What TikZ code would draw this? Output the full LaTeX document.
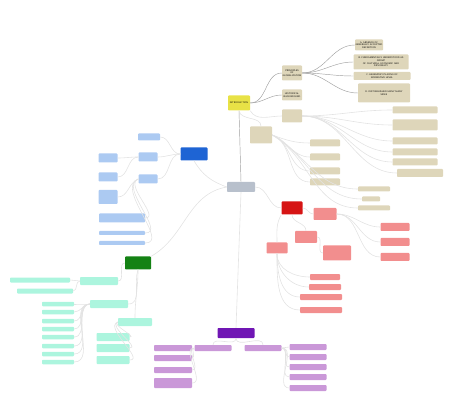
\documentclass[tikz,border=0pt]{standalone}
\usetikzlibrary{positioning}

\definecolor{introcol}{RGB}{232,226,70}
\definecolor{tancol}{RGB}{222,214,186}
\definecolor{hubcol}{RGB}{184,192,204}
\definecolor{bluecol}{RGB}{30,100,212}
\definecolor{lightbluecol}{RGB}{172,202,242}
\definecolor{redcol}{RGB}{214,20,20}
\definecolor{pinkcol}{RGB}{242,142,142}
\definecolor{greencol}{RGB}{20,130,20}
\definecolor{mintcol}{RGB}{172,245,222}
\definecolor{purplecol}{RGB}{112,22,180}
\definecolor{lilaccol}{RGB}{202,152,216}

\newcommand{\mapfont}{\fontsize{2.3}{2.7}\selectfont\sffamily}

\tikzset{
  mapbox/.style={rounded corners=0.8pt, inner sep=0.5pt, align=center, font=\mapfont},
  hubbox/.style={mapbox, fill=hubcol, minimum width=28pt, minimum height=10pt},
  introbox/.style={mapbox, fill=introcol, minimum width=22pt, minimum height=15pt},
  tanbox/.style={mapbox, fill=tancol},
  mainblue/.style={mapbox, fill=bluecol, minimum width=27pt, minimum height=13pt},
  bluebox/.style={mapbox, fill=lightbluecol},
  mainred/.style={mapbox, fill=redcol, minimum width=21pt, minimum height=13pt},
  pinkbox/.style={mapbox, fill=pinkcol},
  maingreen/.style={mapbox, fill=greencol, minimum width=26pt, minimum height=13pt},
  mintbox/.style={mapbox, fill=mintcol},
  mainpurple/.style={mapbox, fill=purplecol, minimum width=37pt, minimum height=10pt},
  lilacbox/.style={mapbox, fill=lilaccol},
  link/.style={draw=gray!75, line width=0.45pt},
  faintlink/.style={draw=gray!22, line width=0.6pt},
}

\begin{document}
\begin{tikzpicture}[x=1pt,y=-1pt]
  \useasboundingbox (0,0) rectangle (474,414);

  % centre
  \node[hubbox] (hub) at (241,187) {};

  % introduction branch
  \node[introbox] (intro) at (239,103) {INTRODUCTION};
  \node[tanbox,minimum width=20pt,minimum height=15pt,text width=19pt] (princ) at (292,73) {PRINCIPLES\\OF\\GLOBALIZATION};
  \node[tanbox,minimum width=20pt,minimum height=11pt,text width=19pt] (hist) at (292,95) {HISTORICAL\\BACKGROUND};
  \node[tanbox,minimum width=28pt,minimum height=11pt,text width=27pt] (defa) at (369,45) {A. ABSENCE OF\\GENERALLY ACCEPTED\\DEFINITION};
  \node[tanbox,minimum width=55pt,minimum height=15pt,text width=53pt] (defb) at (381,62) {B. FUNDAMENTALLY UNDERSTOOD AS\\GROUP\\OF CULTURAL, ECONOMIC AND\\DIPLOMACY};
  \node[tanbox,minimum width=57pt,minimum height=8pt,text width=55pt] (defc) at (382,76) {C. HEGEMONY PLACING OF\\NORMATIVE LEVEL};
  \node[tanbox,minimum width=52pt,minimum height=19pt,text width=50pt] (defd) at (384,93) {D. DISTINGUISHED MANY MANY\\SIDES};

  \draw[link] (hub.north) -- (intro.south);
  \draw[link] (intro.east) to[out=0,in=180] (princ.west);
  \draw[link] (intro.east) to[out=0,in=180] (hist.west);
  \foreach \d in {defa,defb,defc,defd}
    \draw[link] (princ.east) to[out=0,in=180] (\d.west);

  % second tan group
  \node[tanbox,minimum width=20pt,minimum height=13pt] (tup) at (292,116) {};
  \node[tanbox,minimum width=22pt,minimum height=17pt] (tlow) at (261,135) {};
  \foreach \n/\y/\w/\h in {1/110/45/7, 2/125/45/11, 3/141/45/7, 4/152/45/7, 5/162/45/7}
    \node[tanbox,minimum width=\w pt,minimum height=\h pt] (tr\n) at (415,\y) {};
  \node[tanbox,minimum width=46pt,minimum height=8pt] (tr6) at (420,173) {};
  \foreach \n/\y in {1/143,2/157,3/171,4/182}
    \node[tanbox,minimum width=30pt,minimum height=7pt] (tm\n) at (325,\y) {};
  \node[tanbox,minimum width=32pt,minimum height=5pt] (tb1) at (374,189) {};
  \node[tanbox,minimum width=18pt,minimum height=5pt] (tb2) at (371,199) {};
  \node[tanbox,minimum width=32pt,minimum height=5pt] (tb3) at (374,208) {};

  \draw[faintlink] (intro.south east) to[out=-60,in=180] (tup.west);
  \draw[faintlink] (intro.south) to[out=-80,in=90] (tlow.north);
  \foreach \n in {1,...,6}
    \draw[faintlink] (tup.east) to[out=0,in=180] (tr\n.west);
  \foreach \n in {1,...,4}
    \draw[faintlink] (tlow.east) to[out=-20,in=180] (tm\n.west);
  \foreach \n in {1,2,3}
    \draw[faintlink] (tlow.east) to[out=-30,in=180] (tb\n.west);

  % blue branch
  \node[mainblue] (blue) at (194,154) {};
  \node[bluebox,minimum width=22pt,minimum height=7pt] (bc1) at (149,137) {};
  \node[bluebox,minimum width=19pt,minimum height=9pt] (bc2) at (148,157) {};
  \node[bluebox,minimum width=19pt,minimum height=9pt] (bc3) at (148,179) {};
  \node[bluebox,minimum width=19pt,minimum height=9pt] (bl1) at (108,158) {};
  \node[bluebox,minimum width=19pt,minimum height=9pt] (bl2) at (108,177) {};
  \node[bluebox,minimum width=19pt,minimum height=14pt] (bl3) at (108,197) {};
  \node[bluebox,minimum width=46pt,minimum height=9pt] (bl4) at (122,218) {};
  \node[bluebox,minimum width=46pt,minimum height=4pt] (bl5) at (122,233) {};
  \node[bluebox,minimum width=46pt,minimum height=4pt] (bl6) at (122,243) {};

  \draw[faintlink] (hub.west) to[out=160,in=-60] (blue.south);
  \foreach \c in {bc1,bc2,bc3}
    \draw[faintlink] (blue.west) to[out=180,in=0] (\c.east);
  \draw[faintlink] (bc2.west) to[out=180,in=0] (bl1.east);
  \draw[faintlink] (bc2.west) to[out=180,in=0] (bl2.east);
  \foreach \c in {bl3,bl4,bl5,bl6}
    \draw[faintlink] (bc3.west) to[out=200,in=0] (\c.east);

  % red branch
  \node[mainred] (red) at (292,208) {};
  \node[pinkbox,minimum width=23pt,minimum height=12pt] (rc1) at (325,214) {};
  \node[pinkbox,minimum width=22pt,minimum height=12pt] (rc2) at (306,237) {};
  \node[pinkbox,minimum width=21pt,minimum height=11pt] (rc3) at (277,248) {};
  \node[pinkbox,minimum width=28pt,minimum height=15pt] (rc4) at (337,253) {};
  \foreach \n/\y in {1/227,2/242,3/257}
    \node[pinkbox,minimum width=29pt,minimum height=8pt] (rr\n) at (395,\y) {};
  \node[pinkbox,minimum width=30pt,minimum height=6pt] (rb1) at (325,277) {};
  \node[pinkbox,minimum width=32pt,minimum height=6pt] (rb2) at (325,287) {};
  \node[pinkbox,minimum width=42pt,minimum height=6pt] (rb3) at (321,297) {};
  \node[pinkbox,minimum width=42pt,minimum height=6pt] (rb4) at (321,310) {};

  \draw[faintlink] (hub.east) to[out=0,in=180] (red.west);
  \draw[faintlink] (red.east) to[out=0,in=180] (rc1.west);
  \draw[faintlink] (red.south) to[out=-90,in=90] (rc2.north);
  \draw[faintlink] (red.south west) to[out=-120,in=90] (rc3.north);
  \draw[faintlink] (rc2.east) to[out=0,in=180] (rc4.west);
  \foreach \n in {1,2,3}
    \draw[faintlink] (rc1.east) to[out=0,in=180] (rr\n.west);
  \foreach \n in {1,...,4}
    \draw[faintlink] (rc3.south) to[out=-90,in=180] (rb\n.west);

  % green branch
  \node[maingreen] (green) at (138,263) {};
  \node[mintbox,minimum width=38pt,minimum height=8pt] (gc1) at (99,281) {};
  \node[mintbox,minimum width=38pt,minimum height=8pt] (gc2) at (109,304) {};
  \node[mintbox,minimum width=34pt,minimum height=8pt] (gc3) at (135,322) {};
  \node[mintbox,minimum width=60pt,minimum height=5pt] (gl1) at (40,280) {};
  \node[mintbox,minimum width=56pt,minimum height=5pt] (gl2) at (45,291) {};
  \foreach \n/\y in {1/304,2/312,3/321,4/329,5/337,6/346,7/354,8/362}
    \node[mintbox,minimum width=32pt,minimum height=4.5pt] (gk\n) at (58,\y) {};
  \foreach \n/\y in {1/337,2/348,3/360}
    \node[mintbox,minimum width=33pt,minimum height=8pt] (gb\n) at (113,\y) {};

  \draw[faintlink] (hub.west) to[out=190,in=30] (green.north east);
  \draw[faintlink] (green.west) to[out=180,in=0] (gc1.east);
  \draw[faintlink] (green.south) to[out=-110,in=0] (gc2.east);
  \draw[faintlink] (green.south) to[out=-90,in=90] (gc3.north);
  \draw[faintlink] (gc1.west) to[out=180,in=0] (gl1.east);
  \draw[faintlink] (gc1.west) to[out=180,in=0] (gl2.east);
  \foreach \n in {1,...,8}
    \draw[faintlink] (gc2.west) to[out=180,in=0] (gk\n.east);
  \foreach \n in {1,2,3}
    \draw[faintlink] (gc3.west) to[out=200,in=0] (gb\n.east);

  % purple branch
  \node[mainpurple] (purple) at (236,333) {};
  \node[lilacbox,minimum width=37pt,minimum height=6pt] (pc1) at (213,348) {};
  \node[lilacbox,minimum width=37pt,minimum height=6pt] (pc2) at (263,348) {};
  \foreach \n/\y/\h in {1/348/6,2/358/6,3/370/6,4/383/10}
    \node[lilacbox,minimum width=38pt,minimum height=\h pt] (pl\n) at (173,\y) {};
  \foreach \n/\y in {1/347,2/357,3/367,4/377,5/388}
    \node[lilacbox,minimum width=37pt,minimum height=6pt] (pr\n) at (308,\y) {};

  \draw[faintlink] (hub.south) -- (purple.north);
  \draw[faintlink] (purple.south) to[out=-90,in=90] (pc1.north);
  \draw[faintlink] (purple.south) to[out=-90,in=90] (pc2.north);
  \foreach \n in {1,...,4}
    \draw[faintlink] (pc1.west) to[out=180,in=0] (pl\n.east);
  \foreach \n in {1,...,5}
    \draw[faintlink] (pc2.east) to[out=0,in=180] (pr\n.west);
\end{tikzpicture}
\end{document}
